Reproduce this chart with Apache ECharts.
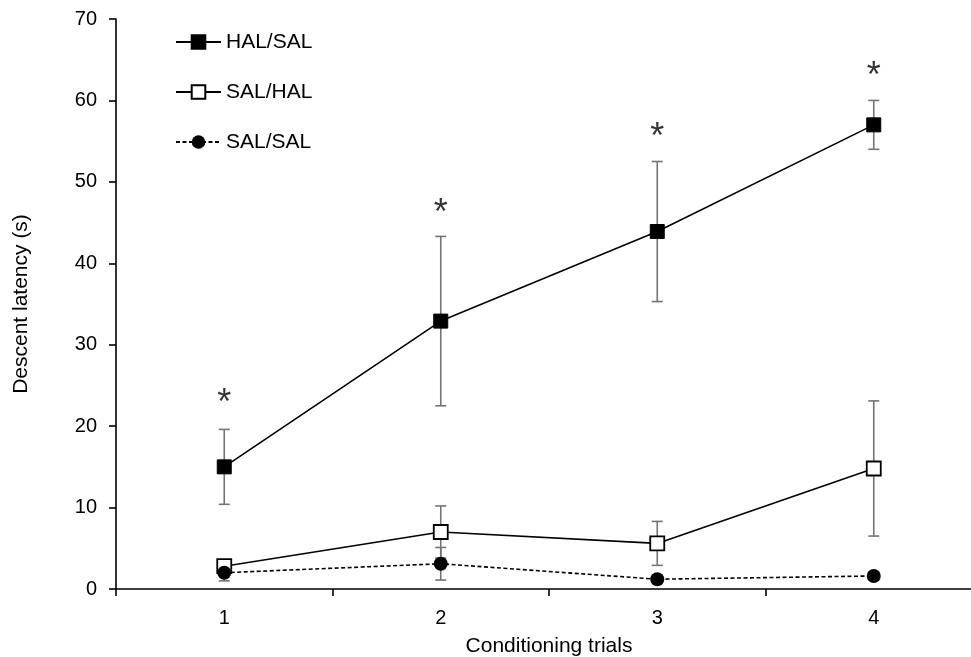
<!DOCTYPE html>
<html>
<head>
<meta charset="utf-8">
<script src="https://cdn.jsdelivr.net/npm/echarts@6/dist/echarts.min.js"></script>
<style>
  html, body { margin: 0; padding: 0; background: #fff; }
  #chart { width: 971px; height: 657px; }
</style>
</head>
<body>
<div id="chart"></div>
<script>
// trials on the x axis
const trials = ['1', '2', '3', '4'];

// mean descent latency (s) and error (+/-) per group
const halSal = [15.0, 32.9, 43.9, 57.0];
const halSalErr = [4.6, 10.4, 8.6, 3.0];
const salHal = [2.8, 7.0, 5.6, 14.8];
const salHalErr = [0.6, 3.2, 2.7, 8.3];
const salSal = [2.0, 3.1, 1.2, 1.6];
const salSalErr = [1.0, 2.0, 0.4, 0.5];

// where the significance stars sit
const starY = [23.7, 47.0, 56.4, 63.9];

const FONT = '"Liberation Sans", Arial, Helvetica, sans-serif';

function errData(mean, err) {
    return mean.map((m, i) => [i, m - err[i], m + err[i]]);
}

function renderErr(params, api) {
    const x = api.value(0);
    const lo = api.coord([x, api.value(1)]);
    const hi = api.coord([x, api.value(2)]);
    const w = 5.5;
    const style = { stroke: '#747474', lineWidth: 1.6 };
    return {
        type: 'group',
        children: [
            { type: 'line', shape: { x1: lo[0], y1: lo[1], x2: hi[0], y2: hi[1] }, style: style },
            { type: 'line', shape: { x1: hi[0] - w, y1: hi[1], x2: hi[0] + w, y2: hi[1] }, style: style },
            { type: 'line', shape: { x1: lo[0] - w, y1: lo[1], x2: lo[0] + w, y2: lo[1] }, style: style }
        ]
    };
}

function errSeries(mean, err) {
    return {
        type: 'custom',
        renderItem: renderErr,
        data: errData(mean, err),
        z: 1,
        silent: true
    };
}

const chart = echarts.init(document.getElementById('chart'));

chart.setOption({
    backgroundColor: '#fff',
    animation: false,
    textStyle: { fontFamily: FONT, color: '#000' },
    grid: {
        left: 116,
        top: 19,
        width: 866,
        height: 570,
        containLabel: false,
        outerBoundsMode: 'none'
    },
    legend: {
        orient: 'vertical',
        left: 175,
        top: 31,
        padding: 0,
        itemWidth: 45,
        itemHeight: 17,
        itemGap: 28,
        textStyle: { fontFamily: FONT, fontSize: 21, color: '#000', lineHeight: 22 },
        data: ['HAL/SAL', 'SAL/HAL', 'SAL/SAL']
    },
    xAxis: {
        type: 'category',
        data: trials,
        boundaryGap: true,
        name: 'Conditioning trials',
        nameLocation: 'middle',
        nameGap: 47,
        nameTextStyle: { fontFamily: FONT, fontSize: 21, color: '#000' },
        axisLine: { lineStyle: { color: '#000', width: 1.6 } },
        axisTick: { show: true, length: 7, interval: 0, lineStyle: { color: '#000', width: 1.6 } },
        axisLabel: { fontFamily: FONT, fontSize: 20, color: '#000', margin: 19 },
        splitLine: { show: false }
    },
    yAxis: {
        type: 'value',
        min: 0,
        max: 70,
        interval: 10,
        name: 'Descent latency (s)',
        nameLocation: 'middle',
        nameGap: 84,
        nameTextStyle: { fontFamily: FONT, fontSize: 21, color: '#000' },
        axisLine: { show: true, lineStyle: { color: '#000', width: 1.6 } },
        axisTick: { show: true, length: 7, lineStyle: { color: '#000', width: 1.6 } },
        axisLabel: { fontFamily: FONT, fontSize: 20, color: '#000', margin: 19 },
        splitLine: { show: false }
    },
    series: [
        errSeries(halSal, halSalErr),
        errSeries(salHal, salHalErr),
        errSeries(salSal, salSalErr),
        {
            name: 'HAL/SAL',
            type: 'line',
            data: halSal,
            z: 3,
            symbol: 'rect',
            symbolSize: 14,
            lineStyle: { color: '#000', width: 1.6 },
            itemStyle: { color: '#000', borderColor: '#000', borderWidth: 1 }
        },
        {
            name: 'SAL/HAL',
            type: 'line',
            data: salHal,
            z: 3,
            symbol: 'rect',
            symbolSize: 14,
            lineStyle: { color: '#000', width: 1.6 },
            itemStyle: { color: '#fff', borderColor: '#000', borderWidth: 1.8 }
        },
        {
            name: 'SAL/SAL',
            type: 'line',
            data: salSal,
            z: 3,
            symbol: 'circle',
            symbolSize: 14,
            lineStyle: { color: '#000', width: 1.6, type: [4, 2.5] },
            itemStyle: { color: '#000', borderColor: '#000', borderWidth: 0 }
        },
        {
            type: 'scatter',
            data: starY,
            symbolSize: 0,
            silent: true,
            z: 4,
            label: {
                show: true,
                position: 'inside',
                formatter: '*',
                fontFamily: FONT,
                fontSize: 36,
                color: '#000',
                offset: [0, 8]
            }
        }
    ]
});
</script>
</body>
</html>
